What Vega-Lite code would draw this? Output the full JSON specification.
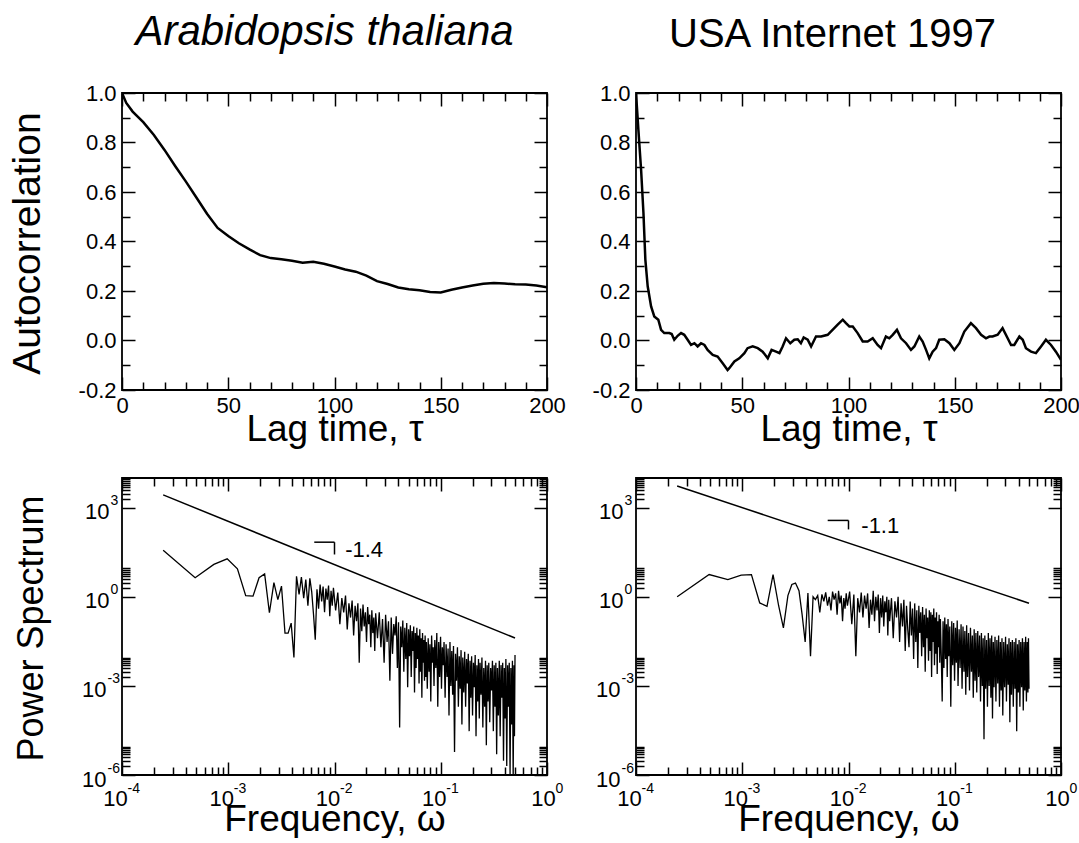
{
"$schema":"https://vega.github.io/schema/vega-lite/v6.json",
"padding":{"left":7,"top":10,"right":0,"bottom":0},
"config":{"view":{"stroke":"black","strokeWidth":1.8},"font":"Liberation Sans",
"title":{"fontSize":40,"fontWeight":"normal","color":"black","font":"Liberation Sans"},
"axis":{"grid":false,"domain":false,"labelFont":"Liberation Sans","labelColor":"black","titleFont":"Liberation Sans","titleColor":"black","titleFontWeight":"normal","tickColor":"black","tickWidth":1.5,"labelFlush":false,"labelOverlap":false,"labelBound":false}},
"datasets":{
"acA":[{"lag":0,"ac":1.0},{"lag":2,"ac":0.96},{"lag":5,"ac":0.925},{"lag":10,"ac":0.882},{"lag":15,"ac":0.83},{"lag":20,"ac":0.77},{"lag":25,"ac":0.705},{"lag":30,"ac":0.643},{"lag":35,"ac":0.578},{"lag":40,"ac":0.512},{"lag":45,"ac":0.455},{"lag":50,"ac":0.422},{"lag":55,"ac":0.393},{"lag":60,"ac":0.368},{"lag":65,"ac":0.345},{"lag":70,"ac":0.333},{"lag":75,"ac":0.328},{"lag":80,"ac":0.322},{"lag":85,"ac":0.314},{"lag":90,"ac":0.318},{"lag":95,"ac":0.31},{"lag":100,"ac":0.299},{"lag":105,"ac":0.287},{"lag":110,"ac":0.278},{"lag":115,"ac":0.262},{"lag":120,"ac":0.24},{"lag":125,"ac":0.228},{"lag":130,"ac":0.214},{"lag":135,"ac":0.207},{"lag":140,"ac":0.203},{"lag":145,"ac":0.196},{"lag":150,"ac":0.194},{"lag":155,"ac":0.205},{"lag":160,"ac":0.214},{"lag":165,"ac":0.222},{"lag":170,"ac":0.229},{"lag":175,"ac":0.232},{"lag":180,"ac":0.23},{"lag":185,"ac":0.227},{"lag":190,"ac":0.226},{"lag":195,"ac":0.222},{"lag":200,"ac":0.215}],
"acB":[{"lag":0,"ac":1.0},{"lag":1.1,"ac":0.854},{"lag":2.4,"ac":0.69},{"lag":3.5,"ac":0.516},{"lag":4.4,"ac":0.327},{"lag":5.5,"ac":0.219},{"lag":7.1,"ac":0.138},{"lag":8.6,"ac":0.097},{"lag":10.5,"ac":0.084},{"lag":11.8,"ac":0.043},{"lag":13.3,"ac":0.03},{"lag":15.7,"ac":0.03},{"lag":16.8,"ac":0.026},{"lag":18,"ac":0.003},{"lag":19.6,"ac":0.019},{"lag":21.2,"ac":0.03},{"lag":22.7,"ac":0.023},{"lag":24.3,"ac":0.003},{"lag":25.9,"ac":-0.018},{"lag":27.5,"ac":-0.011},{"lag":29,"ac":-0.024},{"lag":30.6,"ac":-0.011},{"lag":32.2,"ac":-0.018},{"lag":33.7,"ac":-0.038},{"lag":36.1,"ac":-0.058},{"lag":38.4,"ac":-0.065},{"lag":40.8,"ac":-0.092},{"lag":43.1,"ac":-0.119},{"lag":43.9,"ac":-0.112},{"lag":46.3,"ac":-0.085},{"lag":48.6,"ac":-0.072},{"lag":51,"ac":-0.051},{"lag":52.5,"ac":-0.031},{"lag":54.9,"ac":-0.024},{"lag":57.3,"ac":-0.031},{"lag":59.6,"ac":-0.045},{"lag":62,"ac":-0.072},{"lag":63.8,"ac":-0.038},{"lag":65.9,"ac":-0.045},{"lag":67.5,"ac":-0.051},{"lag":69,"ac":-0.024},{"lag":70.6,"ac":0.009},{"lag":72.6,"ac":-0.011},{"lag":74.5,"ac":0.003},{"lag":76.1,"ac":0.005},{"lag":77.6,"ac":-0.011},{"lag":78.9,"ac":0.012},{"lag":80.8,"ac":0.003},{"lag":82.4,"ac":-0.024},{"lag":84.7,"ac":0.016},{"lag":87.1,"ac":0.016},{"lag":90.2,"ac":0.023},{"lag":92.5,"ac":0.043},{"lag":94.9,"ac":0.064},{"lag":97.3,"ac":0.084},{"lag":98.8,"ac":0.07},{"lag":100.4,"ac":0.057},{"lag":102,"ac":0.057},{"lag":104.3,"ac":0.03},{"lag":106.7,"ac":-0.004},{"lag":109,"ac":-0.004},{"lag":111.4,"ac":0.009},{"lag":113.7,"ac":-0.018},{"lag":115.3,"ac":-0.031},{"lag":117.6,"ac":0.016},{"lag":119.2,"ac":0.009},{"lag":120.8,"ac":0.023},{"lag":122.8,"ac":0.043},{"lag":124.7,"ac":0.009},{"lag":127.1,"ac":-0.011},{"lag":129.4,"ac":-0.038},{"lag":131,"ac":-0.024},{"lag":133.3,"ac":0.016},{"lag":134.9,"ac":-0.004},{"lag":136.5,"ac":-0.038},{"lag":138,"ac":-0.072},{"lag":139.6,"ac":-0.045},{"lag":141.2,"ac":-0.031},{"lag":142.7,"ac":0.003},{"lag":145.1,"ac":0.005},{"lag":147.5,"ac":-0.011},{"lag":149.8,"ac":-0.038},{"lag":152.2,"ac":-0.011},{"lag":154.5,"ac":0.036},{"lag":157.6,"ac":0.07},{"lag":160,"ac":0.05},{"lag":162.4,"ac":0.023},{"lag":164.7,"ac":0.009},{"lag":166.3,"ac":0.016},{"lag":167.8,"ac":0.016},{"lag":170.2,"ac":0.023},{"lag":172.5,"ac":0.05},{"lag":174.9,"ac":0.009},{"lag":176.5,"ac":-0.018},{"lag":178,"ac":-0.018},{"lag":180.4,"ac":0.016},{"lag":182,"ac":0.003},{"lag":183.5,"ac":-0.031},{"lag":185.9,"ac":-0.045},{"lag":188.2,"ac":-0.051},{"lag":190.6,"ac":-0.024},{"lag":192.9,"ac":0.003},{"lag":195.3,"ac":-0.018},{"lag":197.6,"ac":-0.045},{"lag":200,"ac":-0.078}],
"specA":[{"f":0.000244,"p":37},{"f":0.000488,"p":4.4},{"f":0.000732,"p":12.3},{"f":0.000977,"p":19},{"f":0.00122,"p":8.7},{"f":0.00146,"p":1.1},{"f":0.00171,"p":1.05},{"f":0.00195,"p":4.4},{"f":0.0022,"p":5.9},{"f":0.00244,"p":0.29},{"f":0.00269,"p":3.0},{"f":0.00293,"p":0.8},{"f":0.00317,"p":2.3},{"f":0.00342,"p":0.06},{"f":0.00366,"p":0.06},{"f":0.00391,"p":0.13},{"f":0.00415,"p":0.009},{"f":0.00439,"p":4.9},{"f":0.00464,"p":1.2},{"f":0.00488,"p":4.6},{"f":0.00513,"p":0.9},{"f":0.00537,"p":3.8},{"f":0.00562,"p":0.5},{"f":0.00586,"p":4.2},{"f":0.0061,"p":1.5},{"f":0.00635,"p":0.25},{"f":0.00659,"p":0.036},{"f":0.00684,"p":1.8},{"f":0.00708,"p":0.4},{"f":0.00732,"p":2.6},{"f":0.00757,"p":0.7},{"f":0.00781,"p":2.2},{"f":0.00806,"p":0.3},{"f":0.0083,"p":1.9},{"f":0.00854,"p":0.8},{"f":0.00879,"p":2.4},{"f":0.00903,"p":0.22},{"f":0.00928,"p":1.6},{"f":0.00952,"p":0.5},{"f":0.00977,"p":2.0},
{"f":0.01025,"p":0.35},{"f":0.01074,"p":1.4},{"f":0.01123,"p":0.12},{"f":0.01172,"p":0.9},{"f":0.01221,"p":0.3},{"f":0.0127,"p":1.1},{"f":0.01318,"p":0.08},{"f":0.01367,"p":0.6},{"f":0.01416,"p":0.2},{"f":0.01465,"p":0.75},{"f":0.01514,"p":0.05},{"f":0.01563,"p":0.5},{"f":0.01611,"p":0.15},{"f":0.0166,"p":0.6},{"f":0.01709,"p":0.006},{"f":0.01758,"p":0.4},{"f":0.01807,"p":0.07},{"f":0.01855,"p":0.55},{"f":0.01904,"p":0.1},{"f":0.01953,"p":0.3},{"f":0.02002,"p":0.03},{"f":0.02051,"p":0.45},{"f":0.021,"p":0.12},{"f":0.02148,"p":0.25},{"f":0.02197,"p":0.02},{"f":0.02246,"p":0.35},{"f":0.02295,"p":0.06},{"f":0.02344,"p":0.2},{"f":0.02393,"p":0.015},{"f":0.02441,"p":0.28},
{"f":0.02539,"p":0.04},{"f":0.02637,"p":0.3},{"f":0.02734,"p":0.02},{"f":0.02832,"p":0.18},{"f":0.0293,"p":0.006},{"f":0.03027,"p":0.25},{"f":0.03125,"p":0.03},{"f":0.03223,"p":0.15},{"f":0.0332,"p":0.0015},{"f":0.03418,"p":0.2},{"f":0.03516,"p":0.012},{"f":0.03613,"p":0.12},{"f":0.03711,"p":0.05},{"f":0.03809,"p":0.22},{"f":0.03906,"p":0.004},{"f":0.04004,"p":0.14},{"f":0.04102,"p":0.00004},{"f":0.04199,"p":0.1},{"f":0.04297,"p":0.02},{"f":0.04395,"p":0.16},{"f":0.04492,"p":0.003},{"f":0.0459,"p":0.09},{"f":0.04688,"p":0.008},{"f":0.04785,"p":0.13},{"f":0.04883,"p":0.0009},{"f":0.0498,"p":0.08},{"f":0.05078,"p":0.01},{"f":0.05176,"p":0.11},{"f":0.05273,"p":0.002},{"f":0.05371,"p":0.07},{"f":0.05469,"p":0.015},{"f":0.05566,"p":0.1},{"f":0.05664,"p":0.0006},{"f":0.05762,"p":0.06},{"f":0.05859,"p":0.004},{"f":0.05957,"p":0.09},{"f":0.06055,"p":0.008},{"f":0.06152,"p":0.05},{"f":0.0625,"p":0.0012},{"f":0.06348,"p":0.08},{"f":0.06445,"p":0.003},{"f":0.06543,"p":0.04},{"f":0.06641,"p":0.0004},{"f":0.06738,"p":0.06},{"f":0.06836,"p":0.006},{"f":0.06934,"p":0.035},{"f":0.07031,"p":0.0015},{"f":0.07129,"p":0.05},{"f":0.07227,"p":0.002},{"f":0.07324,"p":0.03},
{"f":0.07471,"p":0.0008},{"f":0.07617,"p":0.04},{"f":0.07764,"p":0.003},{"f":0.0791,"p":0.025},{"f":0.08057,"p":0.0003},{"f":0.08203,"p":0.05},{"f":0.0835,"p":0.006},{"f":0.08496,"p":0.02},{"f":0.08643,"p":0.001},{"f":0.08789,"p":0.035},{"f":0.08984,"p":0.004},{"f":0.0918,"p":0.06},{"f":0.09375,"p":0.0002},{"f":0.0957,"p":0.03},{"f":0.09766,"p":0.002},{"f":0.09961,"p":0.045},{"f":0.1016,"p":0.0008},{"f":0.1035,"p":0.02},{"f":0.1055,"p":0.005},{"f":0.1074,"p":0.03},{"f":0.1099,"p":0.0004},{"f":0.1123,"p":0.025},{"f":0.1147,"p":0.002},{"f":0.1172,"p":0.018},{"f":0.1196,"p":0.0001},{"f":0.1221,"p":0.03},{"f":0.1245,"p":0.001},{"f":0.127,"p":0.015},{"f":0.1294,"p":0.0005},{"f":0.1318,"p":0.022},{"f":0.1348,"p":0.000006},{"f":0.1377,"p":0.012},{"f":0.1406,"p":0.0015},{"f":0.1436,"p":0.02},{"f":0.1465,"p":0.0002},{"f":0.1494,"p":0.01},{"f":0.1523,"p":0.0008},{"f":0.1553,"p":0.016},{"f":0.1582,"p":0.00005},{"f":0.1611,"p":0.009},{"f":0.1646,"p":0.0006},{"f":0.168,"p":0.014},{"f":0.1714,"p":0.0002},{"f":0.1748,"p":0.008},{"f":0.1782,"p":0.0012},{"f":0.1816,"p":0.012},{"f":0.1851,"p":0.00003},{"f":0.1885,"p":0.007},{"f":0.1919,"p":0.0004},{"f":0.1953,"p":0.01},{"f":0.1992,"p":0.0001},{"f":0.2031,"p":0.006},{"f":0.207,"p":0.0009},{"f":0.2109,"p":0.011},{"f":0.2148,"p":0.00002},{"f":0.2188,"p":0.005},{"f":0.2227,"p":0.0003},{"f":0.2266,"p":0.008},{"f":0.2305,"p":0.00008},{"f":0.2344,"p":0.006},{"f":0.2393,"p":0.0005},{"f":0.2441,"p":0.009},{"f":0.249,"p":0.00004},{"f":0.2539,"p":0.004},{"f":0.2588,"p":0.0002},{"f":0.2637,"p":0.007},{"f":0.2686,"p":0.00001},{"f":0.2734,"p":0.005},{"f":0.2783,"p":0.0003},{"f":0.2832,"p":0.006},{"f":0.2891,"p":0.00006},{"f":0.2949,"p":0.004},{"f":0.3008,"p":0.0007},{"f":0.3066,"p":0.007},{"f":0.3125,"p":0.00003},{"f":0.3184,"p":0.005},{"f":0.3242,"p":0.0002},{"f":0.3301,"p":0.006},{"f":0.3359,"p":0.000005},{"f":0.3418,"p":0.004},{"f":0.3486,"p":0.0001},{"f":0.3555,"p":0.007},{"f":0.3623,"p":0.00002},{"f":0.3691,"p":0.005},{"f":0.376,"p":0.0004},{"f":0.3828,"p":0.006},{"f":0.3896,"p":0.000003},{"f":0.3965,"p":0.004},{"f":0.4033,"p":0.00008},{"f":0.4102,"p":0.008},{"f":0.418,"p":0.000002},{"f":0.4258,"p":0.005},{"f":0.4336,"p":0.0002},{"f":0.4414,"p":0.006},{"f":0.4492,"p":0.000001},{"f":0.457,"p":0.004},{"f":0.4648,"p":0.00005},{"f":0.4727,"p":0.007},{"f":0.4805,"p":0.0000008},{"f":0.4883,"p":0.005},{"f":0.4941,"p":0.00002},{"f":0.5,"p":0.011}],
"specB":[{"f":0.000244,"p":1.0},{"f":0.000488,"p":5.6},{"f":0.000732,"p":3.8},{"f":0.000977,"p":5.4},{"f":0.00122,"p":5.6},{"f":0.00146,"p":0.62},{"f":0.00171,"p":0.48},{"f":0.00195,"p":5.6},{"f":0.0022,"p":0.5},{"f":0.00244,"p":0.09},{"f":0.00269,"p":1.1},{"f":0.00293,"p":2.6},{"f":0.00317,"p":2.9},{"f":0.00342,"p":1.6},{"f":0.00366,"p":0.25},{"f":0.00391,"p":0.03},{"f":0.00415,"p":1.35},{"f":0.00439,"p":0.01},{"f":0.00464,"p":1.0},{"f":0.00488,"p":0.8},{"f":0.00513,"p":1.1},{"f":0.00537,"p":0.3},{"f":0.00562,"p":1.2},{"f":0.00586,"p":0.7},{"f":0.0061,"p":1.4},{"f":0.00635,"p":0.5},{"f":0.00659,"p":1.0},{"f":0.00684,"p":0.35},{"f":0.00708,"p":1.5},{"f":0.00732,"p":0.8},{"f":0.00757,"p":1.3},{"f":0.00781,"p":0.25},{"f":0.00806,"p":1.6},{"f":0.0083,"p":0.6},{"f":0.00854,"p":1.1},{"f":0.00879,"p":0.15},{"f":0.00903,"p":0.9},{"f":0.00928,"p":0.4},{"f":0.00952,"p":1.3},{"f":0.00977,"p":0.5},
{"f":0.01025,"p":1.5},{"f":0.01074,"p":0.12},{"f":0.01123,"p":1.2},{"f":0.01172,"p":0.01},{"f":0.01221,"p":0.9},{"f":0.0127,"p":0.3},{"f":0.01318,"p":1.4},{"f":0.01367,"p":0.2},{"f":0.01416,"p":1.1},{"f":0.01465,"p":0.4},{"f":0.01514,"p":1.3},{"f":0.01563,"p":0.09},{"f":0.01611,"p":0.8},{"f":0.0166,"p":0.25},{"f":0.01709,"p":1.6},{"f":0.01758,"p":0.15},{"f":0.01807,"p":1.0},{"f":0.01855,"p":0.35},{"f":0.01904,"p":1.2},{"f":0.01953,"p":0.06},{"f":0.02002,"p":0.9},{"f":0.02051,"p":0.2},{"f":0.021,"p":1.1},{"f":0.02148,"p":0.1},{"f":0.02197,"p":0.7},{"f":0.02246,"p":0.3},{"f":0.02295,"p":1.0},{"f":0.02344,"p":0.05},{"f":0.02393,"p":0.8},{"f":0.02441,"p":0.15},
{"f":0.02539,"p":0.9},{"f":0.02637,"p":0.04},{"f":0.02734,"p":0.7},{"f":0.02832,"p":0.2},{"f":0.0293,"p":1.0},{"f":0.03027,"p":0.03},{"f":0.03125,"p":0.6},{"f":0.03223,"p":0.1},{"f":0.0332,"p":0.8},{"f":0.03418,"p":0.015},{"f":0.03516,"p":0.5},{"f":0.03613,"p":0.08},{"f":0.03711,"p":0.02},{"f":0.03809,"p":0.7},{"f":0.03906,"p":0.05},{"f":0.04004,"p":0.4},{"f":0.04102,"p":0.008},{"f":0.04199,"p":0.6},{"f":0.04297,"p":0.03},{"f":0.04395,"p":0.35},{"f":0.04492,"p":0.004},{"f":0.0459,"p":0.5},{"f":0.04688,"p":0.06},{"f":0.04785,"p":0.3},{"f":0.04883,"p":0.01},{"f":0.0498,"p":0.45},{"f":0.05078,"p":0.02},{"f":0.05176,"p":0.25},{"f":0.05273,"p":0.003},{"f":0.05371,"p":0.4},{"f":0.05469,"p":0.04},{"f":0.05566,"p":0.2},{"f":0.05664,"p":0.007},{"f":0.05762,"p":0.35},{"f":0.05859,"p":0.015},{"f":0.05957,"p":0.3},{"f":0.06055,"p":0.002},{"f":0.06152,"p":0.25},{"f":0.0625,"p":0.03},{"f":0.06348,"p":0.4},{"f":0.06445,"p":0.005},{"f":0.06543,"p":0.2},{"f":0.06641,"p":0.012},{"f":0.06738,"p":0.3},{"f":0.06836,"p":0.0025},{"f":0.06934,"p":0.15},{"f":0.07031,"p":0.02},{"f":0.07129,"p":0.25},{"f":0.07227,"p":0.006},{"f":0.07324,"p":0.18},
{"f":0.07471,"p":0.01},{"f":0.07617,"p":0.0003},{"f":0.07764,"p":0.15},{"f":0.0791,"p":0.004},{"f":0.08057,"p":0.2},{"f":0.08203,"p":0.008},{"f":0.0835,"p":0.12},{"f":0.08496,"p":0.002},{"f":0.08643,"p":0.18},{"f":0.08789,"p":0.01},{"f":0.08984,"p":0.1},{"f":0.0918,"p":0.0002},{"f":0.09375,"p":0.15},{"f":0.0957,"p":0.005},{"f":0.09766,"p":0.13},{"f":0.09961,"p":0.0015},{"f":0.1016,"p":0.09},{"f":0.1035,"p":0.006},{"f":0.1055,"p":0.16},{"f":0.1074,"p":0.001},{"f":0.1099,"p":0.08},{"f":0.1123,"p":0.004},{"f":0.1147,"p":0.12},{"f":0.1172,"p":0.0008},{"f":0.1196,"p":0.1},{"f":0.1221,"p":0.003},{"f":0.1245,"p":0.07},{"f":0.127,"p":0.0005},{"f":0.1294,"p":0.11},{"f":0.1318,"p":0.002},{"f":0.1348,"p":0.06},{"f":0.1377,"p":0.0007},{"f":0.1406,"p":0.09},{"f":0.1436,"p":0.003},{"f":0.1465,"p":0.05},{"f":0.1494,"p":0.0004},{"f":0.1523,"p":0.08},{"f":0.1553,"p":0.0015},{"f":0.1582,"p":0.06},{"f":0.1611,"p":0.0006},{"f":0.1646,"p":0.07},{"f":0.168,"p":0.002},{"f":0.1714,"p":0.05},{"f":0.1748,"p":0.0003},{"f":0.1782,"p":0.06},{"f":0.1816,"p":0.001},{"f":0.1851,"p":0.04},{"f":0.1885,"p":0.000016},{"f":0.1919,"p":0.05},{"f":0.1953,"p":0.0008},{"f":0.1992,"p":0.035},{"f":0.2031,"p":0.0002},{"f":0.207,"p":0.06},{"f":0.2109,"p":0.001},{"f":0.2148,"p":0.04},{"f":0.2188,"p":0.0004},{"f":0.2227,"p":0.05},{"f":0.2266,"p":0.00008},{"f":0.2305,"p":0.03},{"f":0.2344,"p":0.0009},{"f":0.2393,"p":0.045},{"f":0.2441,"p":0.0003},{"f":0.249,"p":0.035},{"f":0.2539,"p":0.0012},{"f":0.2588,"p":0.05},{"f":0.2637,"p":0.0002},{"f":0.2686,"p":0.03},{"f":0.2734,"p":0.0007},{"f":0.2783,"p":0.04},{"f":0.2832,"p":0.0001},{"f":0.2891,"p":0.03},{"f":0.2949,"p":0.0009},{"f":0.3008,"p":0.045},{"f":0.3066,"p":0.0003},{"f":0.3125,"p":0.025},{"f":0.3184,"p":0.0011},{"f":0.3242,"p":0.04},{"f":0.3301,"p":0.00006},{"f":0.3359,"p":0.03},{"f":0.3418,"p":0.0005},{"f":0.3486,"p":0.035},{"f":0.3555,"p":0.0002},{"f":0.3623,"p":0.03},{"f":0.3691,"p":0.0008},{"f":0.376,"p":0.04},{"f":0.3828,"p":0.00003},{"f":0.3896,"p":0.025},{"f":0.3965,"p":0.0006},{"f":0.4033,"p":0.035},{"f":0.4102,"p":0.0002},{"f":0.418,"p":0.03},{"f":0.4258,"p":0.0009},{"f":0.4336,"p":0.04},{"f":0.4414,"p":0.00015},{"f":0.4492,"p":0.03},{"f":0.457,"p":0.0007},{"f":0.4648,"p":0.045},{"f":0.4727,"p":0.0003},{"f":0.4805,"p":0.03},{"f":0.4883,"p":0.0006},{"f":0.4941,"p":0.04},{"f":0.5,"p":0.0008}],
"fitA":[{"f":0.000244,"p":2700},{"f":0.5,"p":0.041}],
"fitB":[{"f":0.000244,"p":5400},{"f":0.5,"p":0.61}],
"noteA":[{"f1":0.00645,"f2":0.01,"p1":69,"p2":26.6,"ft":0.0126,"pt":39,"label":"-1.4"}],
"noteB":[{"f1":0.00637,"f2":0.01,"p1":373,"p2":186,"ft":0.0132,"pt":240,"label":"-1.1"}]
},
"spacing":385,
"bounds":"flush",
"vconcat":[
{"hconcat":[
{"width":425,"height":297,
"title":{"text":"Arabidopsis thaliana","fontStyle":"italic","fontSize":42,"dx":-10,"offset":-5,"baseline":"alphabetic","anchor":"middle"},
"data":{"name":"acA"},
"layer":[
{"mark":{"type":"line","color":"black","strokeWidth":2.5,"clip":true},
"encoding":{
"x":{"field":"lag","type":"quantitative","scale":{"domain":[0,200],"nice":false,"zero":false},"axis":{"orient":"bottom","values":[0,50,100,150,200],"format":"d","ticks":false,"labelFontSize":22,"labelBaseline":"alphabetic","labelPadding":22,"title":"Lag time, τ","titleFontSize":37,"titleBaseline":"alphabetic","titleY":50}},
"y":{"field":"ac","type":"quantitative","scale":{"domain":[-0.2,1],"nice":false,"zero":false},"axis":{"orient":"left","values":[-0.2,0,0.2,0.4,0.6,0.8,1],"labelExpr":"replace(format(datum.value,'.1f'),'−','-')","ticks":false,"labelFontSize":22,"labelPadding":6,"title":"Autocorrelation","titleFontSize":39,"titleX":-83,"titleY":150,"titleBaseline":"alphabetic","titleAngle":-90}}}},
{"mark":{"type":"line","opacity":0},
"encoding":{
"x":{"field":"lag","type":"quantitative","axis":{"orient":"bottom","values":[0,10,20,30,40,50,60,70,80,90,100,110,120,130,140,150,160,170,180,190,200],"labels":false,"title":null,"tickSize":{"condition":{"test":"datum.value % 50 == 0","value":-13},"value":-8}}},
"y":{"field":"ac","type":"quantitative","axis":{"orient":"left","values":[-0.2,-0.1,0,0.1,0.2,0.3,0.4,0.5,0.6,0.7,0.8,0.9,1],"labels":false,"title":null,"tickSize":{"condition":{"test":"abs(round(datum.value*10)) % 2 == 0","value":-13},"value":-8}}}}},
{"mark":{"type":"line","opacity":0},
"encoding":{
"x":{"field":"lag","type":"quantitative","axis":{"orient":"top","values":[0,10,20,30,40,50,60,70,80,90,100,110,120,130,140,150,160,170,180,190,200],"labels":false,"title":null,"tickSize":{"condition":{"test":"datum.value % 50 == 0","value":-13},"value":-8}}},
"y":{"field":"ac","type":"quantitative","axis":{"orient":"right","values":[-0.2,-0.1,0,0.1,0.2,0.3,0.4,0.5,0.6,0.7,0.8,0.9,1],"labels":false,"title":null,"tickSize":{"condition":{"test":"abs(round(datum.value*10)) % 2 == 0","value":-13},"value":-8}}}}}
],
"resolve":{"axis":{"x":"independent","y":"independent"}}},
{"width":425,"height":297,
"title":{"text":"USA Internet 1997","dx":-16,"offset":-5,"baseline":"alphabetic","anchor":"middle"},
"data":{"name":"acB"},
"layer":[
{"mark":{"type":"line","color":"black","strokeWidth":2.5,"clip":true},
"encoding":{
"x":{"field":"lag","type":"quantitative","scale":{"domain":[0,200],"nice":false,"zero":false},"axis":{"orient":"bottom","values":[0,50,100,150,200],"format":"d","ticks":false,"labelFontSize":22,"labelBaseline":"alphabetic","labelPadding":22,"title":"Lag time, τ","titleFontSize":37,"titleBaseline":"alphabetic","titleY":50}},
"y":{"field":"ac","type":"quantitative","scale":{"domain":[-0.2,1],"nice":false,"zero":false},"axis":{"orient":"left","values":[-0.2,0,0.2,0.4,0.6,0.8,1],"labelExpr":"replace(format(datum.value,'.1f'),'−','-')","ticks":false,"labelFontSize":22,"labelPadding":6,"title":null}}}},
{"mark":{"type":"line","opacity":0},
"encoding":{
"x":{"field":"lag","type":"quantitative","axis":{"orient":"bottom","values":[0,10,20,30,40,50,60,70,80,90,100,110,120,130,140,150,160,170,180,190,200],"labels":false,"title":null,"tickSize":{"condition":{"test":"datum.value % 50 == 0","value":-13},"value":-8}}},
"y":{"field":"ac","type":"quantitative","axis":{"orient":"left","values":[-0.2,-0.1,0,0.1,0.2,0.3,0.4,0.5,0.6,0.7,0.8,0.9,1],"labels":false,"title":null,"tickSize":{"condition":{"test":"abs(round(datum.value*10)) % 2 == 0","value":-13},"value":-8}}}}},
{"mark":{"type":"line","opacity":0},
"encoding":{
"x":{"field":"lag","type":"quantitative","axis":{"orient":"top","values":[0,10,20,30,40,50,60,70,80,90,100,110,120,130,140,150,160,170,180,190,200],"labels":false,"title":null,"tickSize":{"condition":{"test":"datum.value % 50 == 0","value":-13},"value":-8}}},
"y":{"field":"ac","type":"quantitative","axis":{"orient":"right","values":[-0.2,-0.1,0,0.1,0.2,0.3,0.4,0.5,0.6,0.7,0.8,0.9,1],"labels":false,"title":null,"tickSize":{"condition":{"test":"abs(round(datum.value*10)) % 2 == 0","value":-13},"value":-8}}}}}
],
"resolve":{"axis":{"x":"independent","y":"independent"}}}
],"spacing":89,"bounds":"flush"},
{"hconcat":[
{"width":425,"height":297,
"data":{"name":"specA"},
"layer":[
{"mark":{"type":"line","color":"black","strokeWidth":1.3,"clip":true},
"encoding":{
"x":{"field":"f","type":"quantitative","scale":{"type":"log","domain":[0.0001,1],"nice":false},"axis":{"orient":"bottom","values":[0.0001,0.001,0.01,0.1,1],"labelExpr":"'10'","ticks":false,"labelFontSize":22,"labelBaseline":"alphabetic","labelPadding":30,"labelAlign":"center","labelOffset":{"condition":{"test":"datum.value >= 0.5","value":-4},"value":-7},"title":"Frequency, ω","titleFontSize":37,"titleBaseline":"alphabetic","titleY":55}},
"y":{"field":"p","type":"quantitative","scale":{"type":"log","domain":[1e-6,10000],"nice":false},"axis":{"orient":"left","values":[1e-6,0.001,1,1000],"labelExpr":"'10'","ticks":false,"labelFontSize":22,"labelAlign":"right","labelBaseline":"middle","labelPadding":{"condition":{"test":"datum.value < 0.5","value":16},"value":13},"labelOffset":4,"title":"Power Spectrum","titleFontSize":36,"titleX":-80,"titleY":150,"titleBaseline":"alphabetic","titleAngle":-90}}}},
{"mark":{"type":"line","opacity":0},
"encoding":{
"x":{"field":"f","type":"quantitative","scale":{"type":"log","domain":[0.0001,1],"nice":false},"axis":{"orient":"bottom","values":[0.0001,0.001,0.01,0.1,1],"labelExpr":"replace(format(round(log(datum.value)/LN10),'d'),'−','-')","ticks":false,"labelFontSize":14,"labelBaseline":"alphabetic","labelPadding":17,"labelAlign":"left","labelOffset":{"condition":{"test":"datum.value >= 0.5","value":8},"value":5},"title":null}},
"y":{"field":"p","type":"quantitative","scale":{"type":"log","domain":[1e-6,10000],"nice":false},"axis":{"orient":"left","values":[1e-6,0.001,1,1000],"labelExpr":"replace(format(round(log(datum.value)/LN10),'d'),'−','-')","ticks":false,"labelFontSize":14,"labelAlign":"left","labelBaseline":"middle","labelPadding":{"condition":{"test":"datum.value < 0.5","value":15},"value":12},"labelOffset":-7,"title":null}}}},
{"mark":{"type":"line","opacity":0},
"encoding":{
"x":{"field":"f","type":"quantitative","scale":{"type":"log","domain":[0.0001,1],"nice":false},"axis":{"orient":"bottom","values":[0.0001,0.0002,0.0003,0.0004,0.0005,0.0006,0.0007,0.0008,0.0009,0.001,0.002,0.003,0.004,0.005,0.006,0.007,0.008,0.009,0.01,0.02,0.03,0.04,0.05,0.06,0.07,0.08,0.09,0.1,0.2,0.3,0.4,0.5,0.6,0.7,0.8,0.9,1],"labels":false,"title":null,"tickSize":{"condition":{"test":"abs(log(datum.value)/LN10 - round(log(datum.value)/LN10)) < 0.01","value":-13},"value":-8}}},
"y":{"field":"p","type":"quantitative","scale":{"type":"log","domain":[1e-6,10000],"nice":false},"axis":{"orient":"left","values":[1e-6,2e-6,3e-6,4e-6,5e-6,6e-6,7e-6,8e-6,9e-6,0.001,0.002,0.003,0.004,0.005,0.006,0.007,0.008,0.009,1,2,3,4,5,6,7,8,9,1000,2000,3000,4000,5000,6000,7000,8000,9000],"labels":false,"title":null,"tickSize":{"condition":{"test":"abs(log(datum.value)/LN10 - round(log(datum.value)/LN10)) < 0.01","value":-13},"value":-8}}}}},
{"mark":{"type":"line","opacity":0},
"encoding":{
"x":{"field":"f","type":"quantitative","scale":{"type":"log","domain":[0.0001,1],"nice":false},"axis":{"orient":"top","values":[0.0001,0.0002,0.0003,0.0004,0.0005,0.0006,0.0007,0.0008,0.0009,0.001,0.002,0.003,0.004,0.005,0.006,0.007,0.008,0.009,0.01,0.02,0.03,0.04,0.05,0.06,0.07,0.08,0.09,0.1,0.2,0.3,0.4,0.5,0.6,0.7,0.8,0.9,1],"labels":false,"title":null,"tickSize":{"condition":{"test":"abs(log(datum.value)/LN10 - round(log(datum.value)/LN10)) < 0.01","value":-13},"value":-8}}},
"y":{"field":"p","type":"quantitative","scale":{"type":"log","domain":[1e-6,10000],"nice":false},"axis":{"orient":"right","values":[1e-6,2e-6,3e-6,4e-6,5e-6,6e-6,7e-6,8e-6,9e-6,0.001,0.002,0.003,0.004,0.005,0.006,0.007,0.008,0.009,1,2,3,4,5,6,7,8,9,1000,2000,3000,4000,5000,6000,7000,8000,9000],"labels":false,"title":null,"tickSize":{"condition":{"test":"abs(log(datum.value)/LN10 - round(log(datum.value)/LN10)) < 0.01","value":-13},"value":-8}}}}},
{"data":{"name":"fitA"},"mark":{"type":"line","color":"black","strokeWidth":1.5},
"encoding":{"x":{"field":"f","type":"quantitative","scale":{"type":"log","domain":[0.0001,1],"nice":false},"axis":null},"y":{"field":"p","type":"quantitative","scale":{"type":"log","domain":[1e-6,10000],"nice":false},"axis":null}}},
{"data":{"name":"noteA"},"mark":{"type":"rule","color":"black","strokeWidth":1.5},
"encoding":{"x":{"field":"f1","type":"quantitative","scale":{"type":"log","domain":[0.0001,1],"nice":false},"axis":null},"x2":{"field":"f2"},"y":{"field":"p1","type":"quantitative","scale":{"type":"log","domain":[1e-6,10000],"nice":false},"axis":null}}},
{"data":{"name":"noteA"},"mark":{"type":"rule","color":"black","strokeWidth":1.5},
"encoding":{"x":{"field":"f2","type":"quantitative","scale":{"type":"log","domain":[0.0001,1],"nice":false},"axis":null},"y":{"field":"p1","type":"quantitative","scale":{"type":"log","domain":[1e-6,10000],"nice":false},"axis":null},"y2":{"field":"p2"}}},
{"data":{"name":"noteA"},"mark":{"type":"text","color":"black","fontSize":22,"align":"left","baseline":"middle","font":"Liberation Sans"},
"encoding":{"x":{"field":"ft","type":"quantitative","scale":{"type":"log","domain":[0.0001,1],"nice":false},"axis":null},"y":{"field":"pt","type":"quantitative","scale":{"type":"log","domain":[1e-6,10000],"nice":false},"axis":null},"text":{"field":"label"}}}
],
"resolve":{"axis":{"x":"independent","y":"independent"}}},
{"width":425,"height":297,
"data":{"name":"specB"},
"layer":[
{"mark":{"type":"line","color":"black","strokeWidth":1.3,"clip":true},
"encoding":{
"x":{"field":"f","type":"quantitative","scale":{"type":"log","domain":[0.0001,1],"nice":false},"axis":{"orient":"bottom","values":[0.0001,0.001,0.01,0.1,1],"labelExpr":"'10'","ticks":false,"labelFontSize":22,"labelBaseline":"alphabetic","labelPadding":30,"labelAlign":"center","labelOffset":{"condition":{"test":"datum.value >= 0.5","value":-4},"value":-7},"title":"Frequency, ω","titleFontSize":37,"titleBaseline":"alphabetic","titleY":55}},
"y":{"field":"p","type":"quantitative","scale":{"type":"log","domain":[1e-6,10000],"nice":false},"axis":{"orient":"left","values":[1e-6,0.001,1,1000],"labelExpr":"'10'","ticks":false,"labelFontSize":22,"labelAlign":"right","labelBaseline":"middle","labelPadding":{"condition":{"test":"datum.value < 0.5","value":16},"value":13},"labelOffset":4,"title":null}}}},
{"mark":{"type":"line","opacity":0},
"encoding":{
"x":{"field":"f","type":"quantitative","scale":{"type":"log","domain":[0.0001,1],"nice":false},"axis":{"orient":"bottom","values":[0.0001,0.001,0.01,0.1,1],"labelExpr":"replace(format(round(log(datum.value)/LN10),'d'),'−','-')","ticks":false,"labelFontSize":14,"labelBaseline":"alphabetic","labelPadding":17,"labelAlign":"left","labelOffset":{"condition":{"test":"datum.value >= 0.5","value":8},"value":5},"title":null}},
"y":{"field":"p","type":"quantitative","scale":{"type":"log","domain":[1e-6,10000],"nice":false},"axis":{"orient":"left","values":[1e-6,0.001,1,1000],"labelExpr":"replace(format(round(log(datum.value)/LN10),'d'),'−','-')","ticks":false,"labelFontSize":14,"labelAlign":"left","labelBaseline":"middle","labelPadding":{"condition":{"test":"datum.value < 0.5","value":15},"value":12},"labelOffset":-7,"title":null}}}},
{"mark":{"type":"line","opacity":0},
"encoding":{
"x":{"field":"f","type":"quantitative","scale":{"type":"log","domain":[0.0001,1],"nice":false},"axis":{"orient":"bottom","values":[0.0001,0.0002,0.0003,0.0004,0.0005,0.0006,0.0007,0.0008,0.0009,0.001,0.002,0.003,0.004,0.005,0.006,0.007,0.008,0.009,0.01,0.02,0.03,0.04,0.05,0.06,0.07,0.08,0.09,0.1,0.2,0.3,0.4,0.5,0.6,0.7,0.8,0.9,1],"labels":false,"title":null,"tickSize":{"condition":{"test":"abs(log(datum.value)/LN10 - round(log(datum.value)/LN10)) < 0.01","value":-13},"value":-8}}},
"y":{"field":"p","type":"quantitative","scale":{"type":"log","domain":[1e-6,10000],"nice":false},"axis":{"orient":"left","values":[1e-6,2e-6,3e-6,4e-6,5e-6,6e-6,7e-6,8e-6,9e-6,0.001,0.002,0.003,0.004,0.005,0.006,0.007,0.008,0.009,1,2,3,4,5,6,7,8,9,1000,2000,3000,4000,5000,6000,7000,8000,9000],"labels":false,"title":null,"tickSize":{"condition":{"test":"abs(log(datum.value)/LN10 - round(log(datum.value)/LN10)) < 0.01","value":-13},"value":-8}}}}},
{"mark":{"type":"line","opacity":0},
"encoding":{
"x":{"field":"f","type":"quantitative","scale":{"type":"log","domain":[0.0001,1],"nice":false},"axis":{"orient":"top","values":[0.0001,0.0002,0.0003,0.0004,0.0005,0.0006,0.0007,0.0008,0.0009,0.001,0.002,0.003,0.004,0.005,0.006,0.007,0.008,0.009,0.01,0.02,0.03,0.04,0.05,0.06,0.07,0.08,0.09,0.1,0.2,0.3,0.4,0.5,0.6,0.7,0.8,0.9,1],"labels":false,"title":null,"tickSize":{"condition":{"test":"abs(log(datum.value)/LN10 - round(log(datum.value)/LN10)) < 0.01","value":-13},"value":-8}}},
"y":{"field":"p","type":"quantitative","scale":{"type":"log","domain":[1e-6,10000],"nice":false},"axis":{"orient":"right","values":[1e-6,2e-6,3e-6,4e-6,5e-6,6e-6,7e-6,8e-6,9e-6,0.001,0.002,0.003,0.004,0.005,0.006,0.007,0.008,0.009,1,2,3,4,5,6,7,8,9,1000,2000,3000,4000,5000,6000,7000,8000,9000],"labels":false,"title":null,"tickSize":{"condition":{"test":"abs(log(datum.value)/LN10 - round(log(datum.value)/LN10)) < 0.01","value":-13},"value":-8}}}}},
{"data":{"name":"fitB"},"mark":{"type":"line","color":"black","strokeWidth":1.5},
"encoding":{"x":{"field":"f","type":"quantitative","scale":{"type":"log","domain":[0.0001,1],"nice":false},"axis":null},"y":{"field":"p","type":"quantitative","scale":{"type":"log","domain":[1e-6,10000],"nice":false},"axis":null}}},
{"data":{"name":"noteB"},"mark":{"type":"rule","color":"black","strokeWidth":1.5},
"encoding":{"x":{"field":"f1","type":"quantitative","scale":{"type":"log","domain":[0.0001,1],"nice":false},"axis":null},"x2":{"field":"f2"},"y":{"field":"p1","type":"quantitative","scale":{"type":"log","domain":[1e-6,10000],"nice":false},"axis":null}}},
{"data":{"name":"noteB"},"mark":{"type":"rule","color":"black","strokeWidth":1.5},
"encoding":{"x":{"field":"f2","type":"quantitative","scale":{"type":"log","domain":[0.0001,1],"nice":false},"axis":null},"y":{"field":"p1","type":"quantitative","scale":{"type":"log","domain":[1e-6,10000],"nice":false},"axis":null},"y2":{"field":"p2"}}},
{"data":{"name":"noteB"},"mark":{"type":"text","color":"black","fontSize":22,"align":"left","baseline":"middle","font":"Liberation Sans"},
"encoding":{"x":{"field":"ft","type":"quantitative","scale":{"type":"log","domain":[0.0001,1],"nice":false},"axis":null},"y":{"field":"pt","type":"quantitative","scale":{"type":"log","domain":[1e-6,10000],"nice":false},"axis":null},"text":{"field":"label"}}}
],
"resolve":{"axis":{"x":"independent","y":"independent"}}}
],"spacing":89,"bounds":"flush"}
]
}
